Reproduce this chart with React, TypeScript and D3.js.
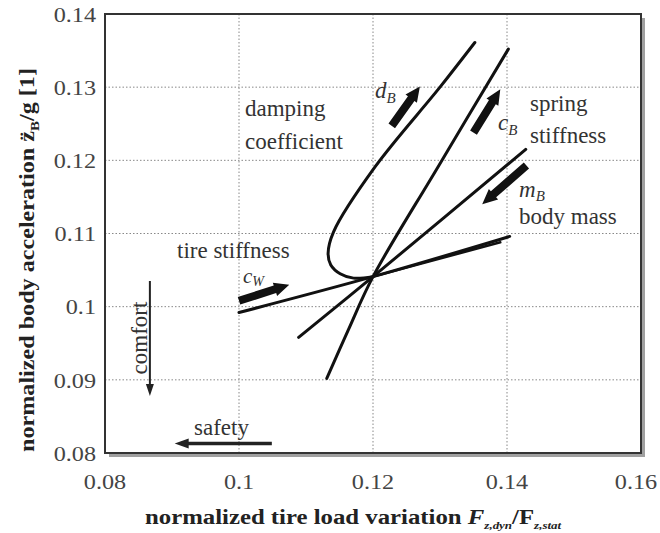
import React from 'react';
import * as d3 from 'd3';

// axis ticks
const xTickValues = [0.08, 0.1, 0.12, 0.14, 0.16];
const xTickLabels = ['0.08', '0.1', '0.12', '0.14', '0.16'];
const yTickValues = [0.08, 0.09, 0.1, 0.11, 0.12, 0.13, 0.14];
const yTickLabels = ['0.08', '0.09', '0.1', '0.11', '0.12', '0.13', '0.14'];

// curves as [tire load variation, body acceleration]
const dampingCurve = [
  [0.1352, 0.1361], [0.13, 0.13], [0.1203, 0.1191], [0.1141, 0.1102],
  [0.1133, 0.1073], [0.1137, 0.1057], [0.1151, 0.1045], [0.1171, 0.1039],
  [0.12, 0.1041],
];
const springCurve = [[0.1131, 0.0902], [0.1163, 0.0968], [0.12, 0.1041], [0.1297, 0.1191], [0.1402, 0.1352]];
const massLine = [[0.1089, 0.0958], [0.12, 0.1041], [0.1428, 0.1215]];
const tireLine = [[0.1, 0.0992], [0.12, 0.1041], [0.1404, 0.1096]];
const tireLineUpper = [[0.12, 0.1041], [0.139, 0.1088]];

// arrows: tail, tip
const thickArrows = [
  [[0.1228, 0.1247], [0.127, 0.1301]],
  [[0.135, 0.1238], [0.139, 0.1297]],
  [[0.1429, 0.1193], [0.1363, 0.114]],
  [[0.1, 0.1008], [0.1075, 0.103]],
];
const comfortArrow = [[0.0867, 0.1035], [0.0867, 0.0878]];
const safetyArrow = [[0.1049, 0.0813], [0.0904, 0.0813]];

const left = 105, right = 641, top = 14, bottom = 453;
const serif = '"Liberation Serif", "Times New Roman", serif';

function arrowPath(p0: number[], p1: number[], w: number, hw: number, hl: number) {
  const dx = p1[0] - p0[0], dy = p1[1] - p0[1];
  const len = Math.sqrt(dx * dx + dy * dy);
  const ux = dx / len, uy = dy / len, nx = -uy, ny = ux;
  const bx = p1[0] - ux * hl, by = p1[1] - uy * hl;
  const pts = [
    [p0[0] + nx * w / 2, p0[1] + ny * w / 2],
    [bx + nx * w / 2, by + ny * w / 2],
    [bx + nx * hw / 2, by + ny * hw / 2],
    [p1[0], p1[1]],
    [bx - nx * hw / 2, by - ny * hw / 2],
    [bx - nx * w / 2, by - ny * w / 2],
    [p0[0] - nx * w / 2, p0[1] - ny * w / 2],
  ];
  return 'M' + pts.map(p => p.join(',')).join('L') + 'Z';
}

export default function App() {
  const x = d3.scaleLinear().domain([0.08, 0.16]).range([left, right]);
  const y = d3.scaleLinear().domain([0.08, 0.14]).range([bottom, top]);
  const line = d3.line<number[]>()
    .x(d => x(d[0]))
    .y(d => y(d[1]))
    .curve(d3.curveCatmullRom.alpha(0.5));
  const px = (d: number[]) => [x(d[0]), y(d[1])];

  return (
    <svg width={660} height={533} style={{ position: 'absolute', left: 0, top: 0, background: '#fff' }}
      fontFamily={serif}>
      {/* frame shadow */}
      <rect x={left + 4} y={top + 4} width={right - left} height={bottom - top} fill="#a0a0a0" />
      <rect x={left} y={top} width={right - left} height={bottom - top} fill="#fff" />

      {/* grid */}
      {xTickValues.slice(1, -1).map(v => (
        <line key={'gx' + v} x1={x(v)} x2={x(v)} y1={top} y2={bottom}
          stroke="#888" strokeWidth={1} strokeDasharray="1.5,2" />
      ))}
      {yTickValues.slice(1, -1).map(v => (
        <line key={'gy' + v} x1={left} x2={right} y1={y(v)} y2={y(v)}
          stroke="#888" strokeWidth={1} strokeDasharray="1.5,2" />
      ))}
      <rect x={left} y={top} width={right - left} height={bottom - top} fill="none" stroke="#333" strokeWidth={2} />

      {/* tick labels */}
      {xTickValues.map((v, i) => (
        <text key={'tx' + v} transform={`translate(${Math.min(x(v), 636)},489) scale(1.1,1)`} textAnchor="middle" fontSize={22} fill="#444">{xTickLabels[i]}</text>
      ))}
      {yTickValues.map((v, i) => (
        <text key={'ty' + v} transform={`translate(96,${y(v)}) scale(1.1,1)`} dy="0.35em" textAnchor="end" fontSize={22} fill="#444">{yTickLabels[i]}</text>
      ))}

      {/* curves */}
      <g fill="none" stroke="#111" strokeWidth={3} strokeLinecap="round">
        <path d={line(dampingCurve) || ''} />
        <path d={line(springCurve) || ''} />
        <path d={line(massLine) || ''} />
        <path d={line(tireLine) || ''} />
        <path d={line(tireLineUpper) || ''} strokeWidth={2.5} />
      </g>

      {/* arrows */}
      {thickArrows.map((a, i) => (
        <path key={'a' + i} d={arrowPath(px(a[0]), px(a[1]), 8, 14, 15)} fill="#111" />
      ))}
      <path d={arrowPath(px(comfortArrow[0]), px(comfortArrow[1]), 2, 8, 12)} fill="#222" />
      <path d={arrowPath(px(safetyArrow[0]), px(safetyArrow[1]), 3.5, 10, 14)} fill="#222" />

      {/* annotations */}
      <g fontSize={23} fill="#333">
        <text x={245} y={116}>damping</text>
        <text x={245} y={149}>coefficient</text>
        <text x={530} y={111}>spring</text>
        <text x={530} y={143}>stiffness</text>
        <text x={519} y={224}>body mass</text>
        <text x={177} y={258}>tire stiffness</text>
        <text x={194} y={435}>safety</text>
        <text transform="translate(147,338) rotate(-90)" textAnchor="middle">comfort</text>
        <text x={375} y={98} fontStyle="italic">d<tspan fontSize={15} dy={5}>B</tspan></text>
        <text x={498} y={130} fontStyle="italic">c<tspan fontSize={15} dy={5}>B</tspan></text>
        <text x={519} y={197} fontStyle="italic">m<tspan fontSize={15} dy={4}>B</tspan></text>
        <text x={243} y={283} fontSize={21} fontStyle="italic">c<tspan fontSize={14} dy={3}>W</tspan></text>
      </g>

      {/* axis titles */}
      <g transform="translate(145,524) scale(1.18,1)">
        <text x={0} y={0} fontSize={21} fontWeight="bold" fill="#222">
          normalized tire load variation <tspan fontStyle="italic">F</tspan>
          <tspan fontStyle="italic" fontSize={11} dy={5}>z,dyn</tspan>
          <tspan dy={-5}>/F</tspan>
          <tspan fontStyle="italic" fontSize={11} dy={5}>z,stat</tspan>
        </text>
      </g>
      <g transform="translate(34,260) rotate(-90) scale(1.15,1)">
        <text x={0} y={0} textAnchor="middle" fontSize={21} fontWeight="bold" fill="#222">
          normalized body acceleration z&#776;<tspan fontSize={13} dy={5}>B</tspan><tspan dy={-5}>/g [1]</tspan>
        </text>
      </g>
    </svg>
  );
}
